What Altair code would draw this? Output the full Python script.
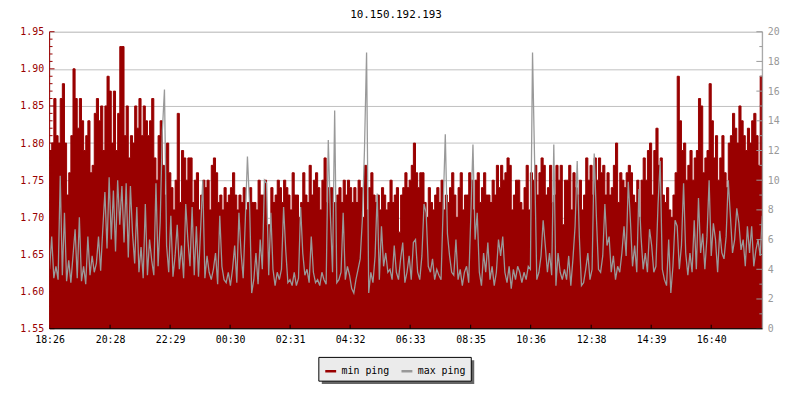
import altair as alt
import pandas as pd

FONT = "DejaVu Sans Mono"
title_text = "10.150.192.193"

# x axis: minutes after 18:26 and their clock labels
tick_minutes = [0, 122, 243, 364, 485, 606, 727, 849, 970, 1092, 1213, 1334]
tick_labels = ["18:26", "20:28", "22:29", "00:30", "02:31", "04:32",
               "06:33", "08:35", "10:36", "12:38", "14:39", "16:40"]
span_minutes = 1437

left_major = [1.55, 1.60, 1.65, 1.70, 1.75, 1.80, 1.85, 1.90, 1.95]
left_minor = [1.56, 1.57, 1.58, 1.59, 1.61, 1.62, 1.63, 1.64, 1.66, 1.67, 1.68, 1.69,
              1.71, 1.72, 1.73, 1.74, 1.76, 1.77, 1.78, 1.79, 1.81, 1.82, 1.83, 1.84,
              1.86, 1.87, 1.88, 1.89, 1.91, 1.92, 1.93, 1.94]
right_major = [0, 2, 4, 6, 8, 10, 12, 14, 16, 18, 20]
right_minor = [1, 3, 5, 7, 9, 11, 13, 15, 17, 19]

series_names = ["min ping", "max ping"]
series_colors = ["#990000", "#999999"]

# min ping (ms), left axis
min_ping_1 = [1.79, 1.80, 1.86, 1.81, 1.80, 1.86, 1.88, 1.80, 1.73, 1.76, 1.81, 1.90, 1.86, 1.82, 1.86, 1.83,
              1.79, 1.81, 1.83, 1.76, 1.77, 1.84, 1.86, 1.83, 1.85, 1.79, 1.85, 1.89, 1.87, 1.80, 1.87, 1.79,
              1.84, 1.93, 1.93, 1.81, 1.85, 1.78, 1.81, 1.80, 1.85, 1.82, 1.86, 1.81, 1.85, 1.83, 1.81, 1.83]
min_ping_2 = [1.86, 1.78, 1.75, 1.81, 1.83, 1.77, 1.73, 1.80, 1.76, 1.74, 1.71, 1.75, 1.84, 1.72, 1.79, 1.78,
              1.75, 1.78, 1.78, 1.72, 1.75, 1.76, 1.71, 1.73, 1.75, 1.74, 1.75, 1.71, 1.77, 1.78, 1.76, 1.72,
              1.73, 1.71, 1.74, 1.72, 1.73, 1.74, 1.76, 1.73, 1.71, 1.73, 1.72, 1.74, 1.71, 1.72, 1.74, 1.72]
min_ping_3 = [1.72, 1.71, 1.75, 1.73, 1.73, 1.75, 1.69, 1.69, 1.74, 1.72, 1.73, 1.75, 1.74, 1.72, 1.75, 1.74,
              1.73, 1.71, 1.76, 1.73, 1.73, 1.70, 1.72, 1.76, 1.73, 1.72, 1.77, 1.73, 1.75, 1.76, 1.74, 1.71,
              1.75, 1.78, 1.72, 1.74, 1.74, 1.72, 1.72, 1.73, 1.74, 1.72, 1.75, 1.73, 1.75, 1.74, 1.72, 1.74]
min_ping_4 = [1.72, 1.75, 1.74, 1.70, 1.77, 1.71, 1.74, 1.76, 1.73, 1.72, 1.73, 1.71, 1.74, 1.73, 1.71, 1.72,
              1.75, 1.72, 1.73, 1.74, 1.68, 1.73, 1.74, 1.76, 1.74, 1.75, 1.77, 1.80, 1.76, 1.74, 1.76, 1.76,
              1.72, 1.70, 1.74, 1.72, 1.71, 1.73, 1.74, 1.72, 1.75, 1.71, 1.73, 1.72, 1.74, 1.76, 1.73, 1.70]
min_ping_5 = [1.74, 1.76, 1.71, 1.73, 1.73, 1.76, 1.75, 1.71, 1.75, 1.76, 1.72, 1.74, 1.76, 1.73, 1.73, 1.72,
              1.75, 1.73, 1.77, 1.74, 1.77, 1.75, 1.76, 1.78, 1.77, 1.71, 1.73, 1.75, 1.75, 1.72, 1.71, 1.74,
              1.77, 1.71, 1.76, 1.75, 1.77, 1.73, 1.76, 1.78, 1.77, 1.73, 1.74, 1.77, 1.72, 1.73, 1.77, 1.75]
min_ping_6 = [1.77, 1.69, 1.75, 1.75, 1.77, 1.71, 1.76, 1.74, 1.73, 1.75, 1.71, 1.73, 1.78, 1.75, 1.77, 1.73,
              1.78, 1.75, 1.78, 1.76, 1.77, 1.73, 1.76, 1.73, 1.74, 1.77, 1.80, 1.72, 1.76, 1.75, 1.74, 1.76,
              1.77, 1.76, 1.73, 1.72, 1.75, 1.70, 1.75, 1.78, 1.75, 1.79, 1.80, 1.73, 1.79, 1.82, 1.77, 1.78]
min_ping_7 = [1.73, 1.72, 1.74, 1.71, 1.70, 1.73, 1.76, 1.89, 1.83, 1.79, 1.80, 1.75, 1.77, 1.79, 1.75, 1.78,
              1.79, 1.86, 1.85, 1.76, 1.78, 1.79, 1.88, 1.83, 1.78, 1.81, 1.75, 1.78, 1.81, 1.76, 1.74, 1.80,
              1.81, 1.84, 1.82, 1.80, 1.85, 1.83, 1.81, 1.79, 1.82, 1.80, 1.83, 1.84, 1.81, 1.77, 1.89, 1.86]

# max ping (ms), right axis
max_ping_1 = [4.0, 6.2, 3.4, 4.2, 3.3, 10.3, 3.6, 7.8, 3.2, 4.6, 3.1, 4.9, 6.7, 3.4, 7.5, 3.2,
              4.2, 3.0, 6.2, 3.6, 4.9, 3.8, 4.4, 6.2, 3.9, 6.7, 9.2, 5.4, 10.2, 6.0, 9.3, 5.2,
              10.0, 7.0, 9.6, 5.8, 9.8, 4.8, 9.6, 6.4, 4.4, 8.2, 3.8, 5.5, 3.4, 8.4, 3.6, 6.0]
max_ping_2 = [4.6, 3.6, 9.8, 4.2, 7.2, 13.3, 16.1, 5.6, 3.8, 7.6, 3.5, 4.9, 7.0, 4.0, 5.6, 3.4,
              8.4, 6.0, 4.2, 8.2, 3.6, 6.9, 3.5, 6.7, 10.0, 3.4, 4.9, 3.8, 3.3, 4.0, 5.1, 3.0,
              7.6, 4.2, 3.3, 3.1, 3.8, 2.9, 4.0, 5.6, 3.1, 7.8, 5.1, 3.4, 7.3, 11.6, 8.4, 2.4]
max_ping_3 = [3.3, 5.1, 3.0, 6.0, 4.0, 10.0, 9.8, 3.6, 7.8, 4.0, 2.9, 3.8, 3.3, 4.0, 8.2, 5.3,
              3.1, 3.3, 2.9, 3.8, 2.9, 3.4, 8.2, 5.1, 3.6, 4.0, 3.1, 6.2, 3.8, 3.1, 3.3, 2.9,
              3.8, 3.3, 3.0, 12.7, 7.6, 3.8, 14.7, 3.1, 3.3, 3.8, 7.8, 3.3, 4.2, 3.6, 2.7, 2.4]
max_ping_4 = [3.3, 4.0, 4.7, 7.3, 12.0, 18.6, 2.4, 3.8, 3.1, 4.9, 9.1, 3.3, 6.9, 4.2, 5.1, 3.8,
              4.0, 3.3, 5.6, 3.8, 3.3, 4.7, 5.8, 3.1, 3.8, 4.9, 3.3, 5.8, 6.0, 3.8, 3.3, 4.9,
              8.4, 7.8, 4.2, 3.8, 4.7, 3.3, 4.0, 3.6, 3.3, 8.2, 13.1, 6.4, 4.9, 3.8, 3.6, 6.0]
max_ping_5 = [3.3, 4.0, 2.9, 3.8, 4.2, 3.1, 7.6, 12.4, 6.0, 7.8, 3.8, 2.9, 5.1, 3.8, 5.8, 3.3,
              4.2, 2.9, 3.8, 6.0, 4.9, 6.2, 3.8, 3.1, 4.2, 2.7, 4.0, 3.3, 4.2, 3.8, 3.1, 3.8,
              3.3, 4.2, 4.0, 18.6, 11.1, 3.3, 3.8, 4.9, 7.3, 5.6, 3.8, 5.1, 3.6, 12.4, 2.9, 5.1]
max_ping_6 = [3.8, 3.3, 4.0, 3.3, 4.9, 2.9, 4.7, 6.9, 11.3, 6.2, 2.9, 3.1, 4.0, 5.1, 3.3, 4.0,
              11.8, 7.6, 4.0, 3.8, 4.9, 8.4, 5.6, 6.2, 3.8, 4.9, 3.3, 4.2, 3.8, 5.1, 6.9, 4.9,
              9.9, 7.3, 4.2, 5.6, 3.8, 9.4, 6.2, 4.0, 5.1, 3.8, 6.7, 5.6, 3.8, 4.2, 8.4, 11.3]
max_ping_7 = [4.0, 3.3, 2.9, 6.0, 2.4, 4.2, 7.3, 6.9, 4.0, 5.6, 9.8, 5.1, 3.6, 5.1, 3.8, 7.3,
              4.0, 8.8, 5.1, 6.4, 4.0, 6.2, 10.0, 4.9, 7.1, 6.0, 3.8, 6.6, 5.1, 4.7, 6.2, 10.0,
              7.6, 5.1, 6.0, 8.1, 7.1, 5.3, 6.0, 4.2, 6.9, 5.1, 6.9, 4.2, 5.3, 6.0, 4.9, 7.6]

min_ping = min_ping_1 + min_ping_2 + min_ping_3 + min_ping_4 + min_ping_5 + min_ping_6 + min_ping_7
max_ping = max_ping_1 + max_ping_2 + max_ping_3 + max_ping_4 + max_ping_5 + max_ping_6 + max_ping_7

n = min(len(min_ping), len(max_ping))
df = pd.DataFrame({
    "t": [i * span_minutes / (n - 1) for i in range(n)],
    "min": min_ping[:n],
    "max": max_ping[:n],
    "s_min": series_names[0],
    "s_max": series_names[1],
})

W, H = 720, 300

label_expr = ("[" + ",".join("'%s'" % s for s in tick_labels) + "][indexof(["
              + ",".join(str(v) for v in tick_minutes) + "], datum.value)]")

xscale = alt.Scale(domain=[0, span_minutes], nice=False, zero=False)
xaxis = alt.Axis(values=tick_minutes, labelExpr=label_expr, ticks=False, domain=False,
                 grid=False, labelFont=FONT, labelFontSize=10, labelColor="black",
                 labelPadding=6, labelFlush=False, labelOverlap=False, title=None)
lscale = alt.Scale(domain=[1.55, 1.95], nice=False, zero=False)
laxis = alt.Axis(values=left_major, format=".2f", ticks=False, domain=False, grid=True,
                 gridColor="#c0c0c0", gridWidth=1, labelColor="#990000", labelFont=FONT,
                 labelFontSize=10, labelPadding=6, labelOverlap=False, labelFlush=False,
                 title=None, orient="left")
rscale = alt.Scale(domain=[0, 20], nice=False, zero=False)
raxis = alt.Axis(values=right_major, format="d", ticks=False, domain=False, grid=False,
                 labelColor="#999999", labelFont=FONT, labelFontSize=10, labelPadding=5,
                 labelOverlap=False, labelFlush=False, title=None, orient="right")

stroke_scale = alt.Scale(domain=series_names, range=series_colors)
legend = alt.Legend(orient="none", legendX=277, legendY=336, direction="horizontal",
                    title=None, symbolType="stroke", symbolStrokeWidth=2.5, symbolSize=121,
                    labelFont=FONT, labelFontSize=10, labelColor="black",
                    columnPadding=6, labelOffset=4, padding=0)

area = alt.Chart(df).mark_area(interpolate="step-after", fill="#990000",
                               strokeWidth=1, clip=True).encode(
    x=alt.X("t:Q", scale=xscale, axis=xaxis),
    y=alt.Y("min:Q", scale=lscale, axis=laxis),
    stroke=alt.Stroke("s_min:N", scale=stroke_scale, legend=legend),
)
l_major = alt.Chart(pd.DataFrame({"v": left_major})).mark_rule(color="#990000").encode(
    y=alt.Y("v:Q", scale=lscale, axis=laxis), x=alt.value(0), x2=alt.value(5))
l_minor = alt.Chart(pd.DataFrame({"v": left_minor})).mark_rule(color="#990000").encode(
    y=alt.Y("v:Q", scale=lscale, axis=laxis), x=alt.value(0), x2=alt.value(3))
left_layer = alt.layer(area, l_major, l_minor)

line = alt.Chart(df).mark_line(strokeWidth=1.3, clip=True).encode(
    x=alt.X("t:Q", scale=xscale, axis=xaxis),
    y=alt.Y("max:Q", scale=rscale, axis=raxis),
    stroke=alt.Stroke("s_max:N", scale=stroke_scale, legend=legend),
)
r_major = alt.Chart(pd.DataFrame({"v": right_major})).mark_rule(color="#999999").encode(
    y=alt.Y("v:Q", scale=rscale, axis=raxis), x=alt.value(W), x2=alt.value(W - 6))
r_minor = alt.Chart(pd.DataFrame({"v": right_minor})).mark_rule(color="#999999").encode(
    y=alt.Y("v:Q", scale=rscale, axis=raxis), x=alt.value(W), x2=alt.value(W - 3))
right_layer = alt.layer(line, r_major, r_minor)

one = pd.DataFrame({"a": [0]})
b_ticks = alt.Chart(pd.DataFrame({"t": tick_minutes})).mark_rule(color="black").encode(
    x=alt.X("t:Q", scale=xscale, axis=xaxis), y=alt.value(H - 4), y2=alt.value(H))
dom_left = alt.Chart(one).mark_rule(color="#990000").encode(
    x=alt.value(0), y=alt.value(0), y2=alt.value(H))
dom_right = alt.Chart(one).mark_rule(color="#999999").encode(
    x=alt.value(W), y=alt.value(0), y2=alt.value(H))
dom_bottom = alt.Chart(one).mark_rule(color="black").encode(
    y=alt.value(H), x=alt.value(0), x2=alt.value(W))
shadow = alt.Chart(one).mark_rect(color="#666666").encode(
    x=alt.value(275), x2=alt.value(429), y=alt.value(332), y2=alt.value(356))
box = alt.Chart(one).mark_rect(fill="#ebebeb", stroke="black", strokeWidth=1).encode(
    x=alt.value(272), x2=alt.value(426), y=alt.value(329), y2=alt.value(353))

chart = alt.layer(
    left_layer, right_layer, b_ticks, dom_left, dom_right, dom_bottom, shadow, box
).resolve_scale(y="independent").properties(
    width=W, height=H,
    title=alt.TitleParams(title_text, font=FONT, fontSize=11, fontWeight="normal",
                          color="black", anchor="middle", offset=7, dx=-10),
    autosize=alt.AutoSizeParams(type="none"),
    padding={"left": 42, "top": 22, "right": 30, "bottom": 62},
).configure_view(strokeWidth=0).configure(background="white")

chart.save("out.html", embed_options={"renderer": "svg", "actions": False})
